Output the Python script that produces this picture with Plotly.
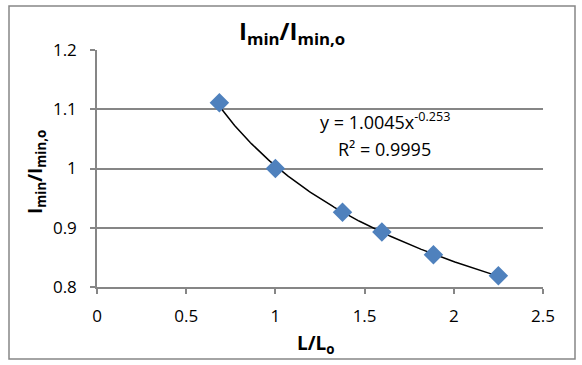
import numpy as np
import plotly.graph_objects as go

# Data
x_vals = [0.686, 1.0, 1.376, 1.597, 1.886, 2.25]
y_vals = [1.111, 1.0, 0.926, 0.893, 0.8545, 0.819]
fit_a = 1.0045
fit_b = -0.253
r_squared = "0.9995"
x_ticks = [0, 0.5, 1, 1.5, 2, 2.5]
x_tick_text = ["0", "0.5", "1", "1.5", "2", "2.5"]
y_ticks = [0.8, 0.9, 1.0, 1.1, 1.2]
y_tick_text = ["0.8", "0.9", "1", "1.1", "1.2"]

W, H = 582, 365
L, R, T, B = 97, 39, 50, 78
pw, ph = W - L - R, H - T - B

xf = np.linspace(min(x_vals), max(x_vals), 200)
yf = fit_a * xf ** fit_b

FONT = "Open Sans"
fig = go.Figure()
fig.add_trace(go.Scatter(x=xf, y=yf, mode="lines",
                         line=dict(color="black", width=1.5), hoverinfo="skip"))
fig.add_trace(go.Scatter(x=x_vals, y=y_vals, mode="markers",
                         marker=dict(symbol="diamond", size=15, color="#4F81BD",
                                     line=dict(width=0))))

axis_col = "#868686"
fig.update_layout(
    width=W, height=H, margin=dict(l=L, r=R, t=T, b=B),
    paper_bgcolor="white", plot_bgcolor="white", showlegend=False,
    font=dict(family=FONT, size=17, color="black"),
    xaxis=dict(range=[0, 2.5], tickvals=x_ticks, ticktext=x_tick_text,
               showgrid=False, zeroline=False, showline=True, linecolor=axis_col,
               linewidth=1.5, ticks="outside", ticklen=5, tickcolor=axis_col,
               tickwidth=1.5, ticklabelstandoff=8, fixedrange=True),
    yaxis=dict(range=[0.8, 1.2], tickvals=y_ticks, ticktext=y_tick_text,
               showgrid=True, gridcolor=axis_col, gridwidth=1.5, zeroline=False,
               showline=True, linecolor=axis_col, linewidth=1.5, ticks="outside",
               ticklen=5, tickcolor=axis_col, tickwidth=1.5, ticklabelstandoff=10,
               fixedrange=True),
)

def px_x(p):
    return (p - L) / pw

def px_y(p):
    return (H - B - p) / ph

# outer border
fig.add_shape(type="rect", xref="paper", yref="paper",
              x0=px_x(9), x1=px_x(575), y0=px_y(359), y1=px_y(6),
              line=dict(color=axis_col, width=1.5), fillcolor="rgba(0,0,0,0)")

fig.add_annotation(xref="paper", yref="paper", x=px_x(292), y=px_y(32),
                   text="<b>I<sub>min</sub>/I<sub>min,o</sub></b>", showarrow=False,
                   font=dict(size=24, family=FONT), xanchor="center", yanchor="middle")
fig.add_annotation(xref="paper", yref="paper", x=px_x(36), y=px_y(172),
                   text="<b>I<sub>min</sub>/I<sub>min,o</sub></b>", showarrow=False,
                   textangle=-90, font=dict(size=19, family=FONT),
                   xanchor="center", yanchor="middle")
fig.add_annotation(xref="paper", yref="paper", x=px_x(316), y=px_y(344),
                   text="<b>L/L<sub>o</sub></b>", showarrow=False,
                   font=dict(size=19, family=FONT), xanchor="center", yanchor="middle")
fig.add_annotation(xref="paper", yref="paper", x=px_x(385), y=px_y(121),
                   text=f"y = {fit_a}x<sup>{fit_b}</sup>", showarrow=False,
                   font=dict(size=18, family=FONT), xanchor="center", yanchor="middle")
fig.add_annotation(xref="paper", yref="paper", x=px_x(384), y=px_y(149),
                   text=f"R² = {r_squared}", showarrow=False,
                   font=dict(size=18, family=FONT), xanchor="center", yanchor="middle")

fig.write_html("out.html")
